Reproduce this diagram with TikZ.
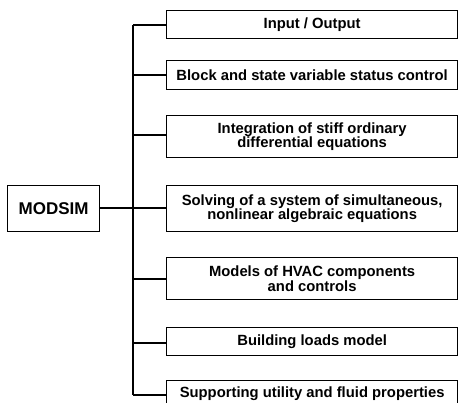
\documentclass[tikz,border=0pt]{standalone}
\usepackage{fontspec}
\setmainfont{Liberation Sans}
\begin{document}
\begin{tikzpicture}[x=1pt,y=-1pt,
  box/.style={draw,line width=1.3pt,minimum width=291pt,inner sep=0pt,align=center,
    font=\fontsize{14.8}{14.5}\selectfont\bfseries},
  conn/.style={line width=1.3pt}]
\useasboundingbox (0,0) rectangle (459,403);
\node[box,anchor=north west,minimum height=28pt] (b1) at (166,10) {Input / Output};
\node[box,anchor=north west,minimum height=29pt] (b2) at (166,60) {Block and state variable status control};
\node[box,anchor=north west,minimum height=42pt] (b3) at (166,115) {Integration of stiff ordinary\\differential equations};
\node[box,anchor=north west,minimum height=46pt] (b4) at (166,185) {Solving of a system of simultaneous,\\nonlinear algebraic equations};
\node[box,anchor=north west,minimum height=42pt] (b5) at (166,257) {Models of HVAC components\\and controls};
\node[box,anchor=north west,minimum height=28pt] (b6) at (166,327) {Building loads model};
\node[box,anchor=north west,minimum height=26pt] (b7) at (166,380) {Supporting utility and fluid properties\vphantom{p}};
\node[box,anchor=north west,minimum width=92pt,minimum height=46pt,font=\fontsize{17}{18}\selectfont\bfseries] (m) at (7,185) {MODSIM};
\coordinate (t1) at (133,25);
\coordinate (t7) at (133,395);
\draw[conn] (t1) -- (t7);
\draw[conn] (t1) -- (b1.west |- t1);
\draw[conn] (133,75) -- (b2.west |- 0,75);
\draw[conn] (133,135) -- (b3.west |- 0,135);
\draw[conn] (m.east |- 0,208) -- (b4.west |- 0,208);
\draw[conn] (133,279) -- (b5.west |- 0,279);
\draw[conn] (133,343) -- (b6.west |- 0,343);
\draw[conn] (t7) -- (b7.west |- t7);
\end{tikzpicture}
\end{document}
